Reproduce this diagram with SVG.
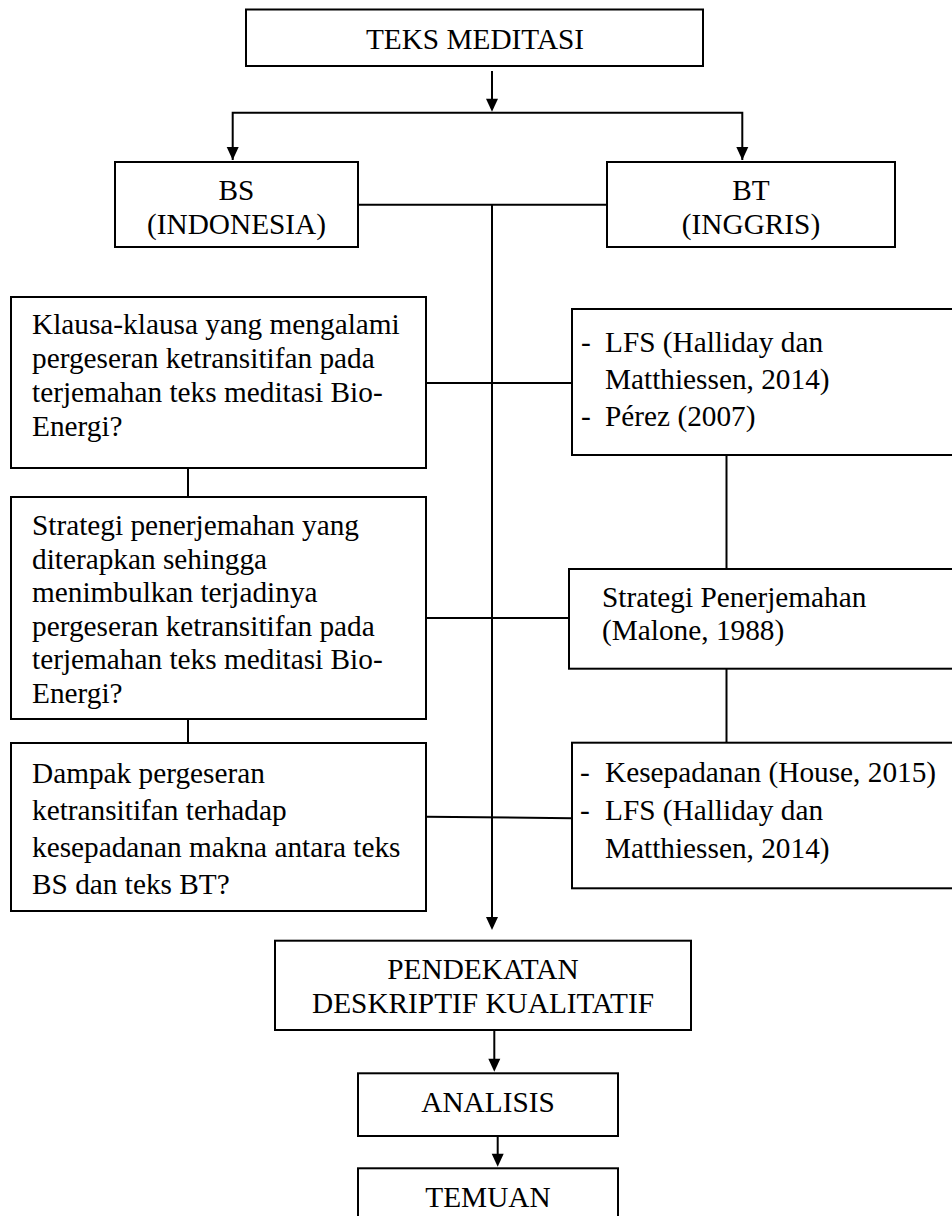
<svg xmlns="http://www.w3.org/2000/svg" width="952" height="1216" viewBox="0 0 952 1216">
<defs>
<marker id="ah" markerWidth="12" markerHeight="13" refX="6" refY="13" orient="auto-start-reverse" markerUnits="userSpaceOnUse" viewBox="0 0 12 13">
<path d="M0,0 L12,0 L6,13 Z" fill="#000"/>
</marker>
<style>
.box{fill:#fff;stroke:#000;stroke-width:2}
.ln{fill:none;stroke:#000;stroke-width:2}
text{font-family:"Liberation Serif","Times New Roman",serif;font-size:29.3px;fill:#000}
.c{text-anchor:middle}
</style>
</defs>
<rect width="952" height="1216" fill="#fff"/>
<g id="connectors">
<line class="ln" x1="492" y1="71" x2="492" y2="99"/>
<path d="M486,98.7 L498,98.7 L492,111.7 Z"/>
<polyline class="ln" points="232.7,160 232.7,112.7 742.3,112.7 742.3,160"/>
<path d="M226.7,147 L238.7,147 L232.7,160 Z"/>
<path d="M736.3,147 L748.3,147 L742.3,160 Z"/>
<line class="ln" x1="358" y1="204.7" x2="607" y2="204.7"/>
<line class="ln" x1="492" y1="204.7" x2="492" y2="918"/>
<path d="M486,917 L498,917 L492,930 Z"/>
<line class="ln" x1="426" y1="383" x2="572" y2="383"/>
<line class="ln" x1="426" y1="618" x2="569" y2="618"/>
<line class="ln" x1="426" y1="816.7" x2="572" y2="818.3"/>
<line class="ln" x1="188" y1="468" x2="188" y2="497"/>
<line class="ln" x1="188" y1="719" x2="188" y2="743"/>
<line class="ln" x1="726.5" y1="455" x2="726.5" y2="569"/>
<line class="ln" x1="726.5" y1="668.7" x2="726.5" y2="742.7"/>
<line class="ln" x1="494.3" y1="1030" x2="494.3" y2="1060"/>
<path d="M488.3,1058.7 L500.3,1058.7 L494.3,1071.7 Z"/>
<line class="ln" x1="497.7" y1="1136" x2="497.7" y2="1155"/>
<path d="M491.7,1153.7 L503.7,1153.7 L497.7,1166.7 Z"/>
</g>
<g id="teks">
<rect class="box" x="246" y="9.5" width="457" height="56.5"/>
<text class="c" x="475" y="49.3">TEKS MEDITASI</text>
</g>
<g id="bs">
<rect class="box" x="115" y="162" width="243" height="85"/>
<text class="c" x="236.5" y="200">BS</text>
<text class="c" x="236.5" y="234">(INDONESIA)</text>
</g>
<g id="bt">
<rect class="box" x="607" y="162" width="288" height="85"/>
<text class="c" x="751" y="200">BT</text>
<text class="c" x="751" y="234">(INGGRIS)</text>
</g>
<g id="q1">
<rect class="box" x="11" y="297" width="415" height="171"/>
<text x="32" y="334">Klausa-klausa yang mengalami</text>
<text x="32" y="368">pergeseran ketransitifan pada</text>
<text x="32" y="402">terjemahan teks meditasi Bio-</text>
<text x="32" y="436">Energi?</text>
</g>
<g id="q2">
<rect class="box" x="11" y="497" width="415" height="222"/>
<text x="32" y="535">Strategi penerjemahan yang</text>
<text x="32" y="568.5">diterapkan sehingga</text>
<text x="32" y="602">menimbulkan terjadinya</text>
<text x="32" y="635.5">pergeseran ketransitifan pada</text>
<text x="32" y="669">terjemahan teks meditasi Bio-</text>
<text x="32" y="702.5">Energi?</text>
</g>
<g id="q3">
<rect class="box" x="11" y="743" width="415" height="168"/>
<text x="32" y="783">Dampak pergeseran</text>
<text x="32" y="820">ketransitifan terhadap</text>
<text x="32" y="857">kesepadanan makna antara teks</text>
<text x="32" y="894">BS dan teks BT?</text>
</g>
<g id="r1">
<rect class="box" x="572" y="309" width="390" height="146"/>
<text x="581" y="352">-</text>
<text x="605" y="352">LFS (Halliday dan</text>
<text x="605" y="389">Matthiessen, 2014)</text>
<text x="581" y="426">-</text>
<text x="605" y="426">Pérez (2007)</text>
</g>
<g id="r2">
<rect class="box" x="569" y="569" width="393" height="99.7"/>
<text x="602" y="606.7">Strategi Penerjemahan</text>
<text x="602" y="640">(Malone, 1988)</text>
</g>
<g id="r3">
<rect class="box" x="572" y="742.7" width="390" height="145.6"/>
<text x="580" y="781.5">-</text>
<text x="605" y="781.5">Kesepadanan (House, 2015)</text>
<text x="580" y="819.5">-</text>
<text x="605" y="819.5">LFS (Halliday dan</text>
<text x="605" y="857.5">Matthiessen, 2014)</text>
</g>
<g id="pendekatan">
<rect class="box" x="275" y="940.7" width="416" height="89.3"/>
<text class="c" x="483" y="978.5">PENDEKATAN</text>
<text class="c" x="483" y="1012.5">DESKRIPTIF KUALITATIF</text>
</g>
<g id="analisis">
<rect class="box" x="358" y="1073.3" width="260" height="62.7"/>
<text class="c" x="488" y="1111.7">ANALISIS</text>
</g>
<g id="temuan">
<rect class="box" x="358" y="1168.3" width="260" height="60"/>
<text class="c" x="488" y="1206.7">TEMUAN</text>
</g>
</svg>
